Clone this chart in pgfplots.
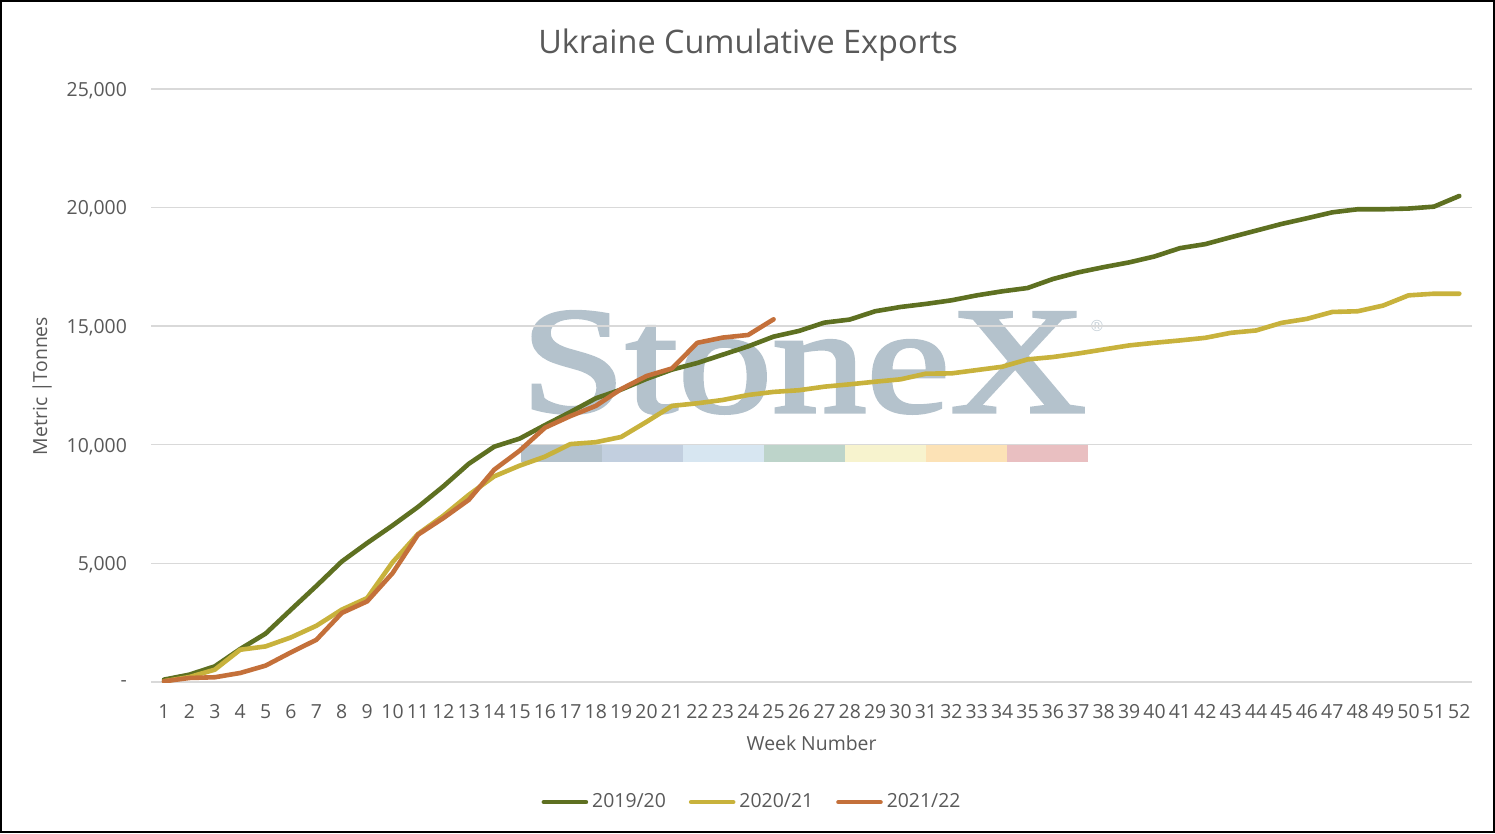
\documentclass[border=0pt]{standalone}
\usepackage{pgfplots}
\pgfplotsset{compat=1.18}
\usepackage{fontspec}
\setmainfont{Open Sans}
\newfontfamily\wmfont[FakeBold=2]{Liberation Serif}
\newfontfamily\symfont{Liberation Sans}
\newlength{\px}\setlength{\px}{0.5bp}
\definecolor{txt}{HTML}{595959}
\definecolor{gridc}{HTML}{D9D9D9}
\definecolor{sgreen}{HTML}{5E7021}
\definecolor{syellow}{HTML}{C8B23C}
\definecolor{sorange}{HTML}{C4703A}
\definecolor{wm}{HTML}{B4C2CC}
\definecolor{wa}{HTML}{B4C2CC}
\definecolor{wb}{HTML}{C2CFDF}
\definecolor{wc}{HTML}{D7E6F1}
\definecolor{wd}{HTML}{BDD4CA}
\definecolor{we}{HTML}{F7F3CE}
\definecolor{wf}{HTML}{FCE2B6}
\definecolor{wg}{HTML}{E9BFC1}
\begin{document}
\begin{tikzpicture}
\useasboundingbox (0,0) rectangle (1495\px,833\px);
\fill[white] (0,0) rectangle (1495\px,833\px);
% watermark
\node[anchor=base, inner sep=0pt, text=wm, font={\wmfont\fontsize{76bp}{80bp}\selectfont}, xscale=1.24] at (803.5\px,421\px) {StoneX};
\node[inner sep=0pt, text=wm!80, font={\symfont\fontsize{8bp}{9bp}\selectfont}] at (1097\px,507\px) {®};
\fill[wa] (521\px,371\px) rectangle (602\px,388\px);
\fill[wb] (602\px,371\px) rectangle (683\px,388\px);
\fill[wc] (683\px,371\px) rectangle (764\px,388\px);
\fill[wd] (764\px,371\px) rectangle (845\px,388\px);
\fill[we] (845\px,371\px) rectangle (926\px,388\px);
\fill[wf] (926\px,371\px) rectangle (1007\px,388\px);
\fill[wg] (1007\px,371\px) rectangle (1088\px,388\px);
\begin{axis}[
  at={(151.3\px,151\px)}, anchor=south west,
  scale only axis, width=1320.7\px, height=593\px,
  xmin=0.5, xmax=52.5, ymin=0, ymax=25000,
  xtick={1,...,52},
  ytick={0,5000,10000,15000,20000,25000},
  scaled y ticks=false,
  yticklabels={{-\hspace{11\px}},{5,000},{10,000},{15,000},{20,000},{25,000}},
  ymajorgrids, major grid style={gridc, line width=1.4\px},
  axis line style={draw=none}, major tick length=0pt,
  tick label style={font=\fontsize{9.7bp}{11bp}\selectfont, text=txt},
  /pgf/number format/assume math mode=true,
  xticklabel style={anchor=base, yshift=-36\px, inner sep=0pt},
  yticklabel style={anchor=east, xshift=-24\px, yshift=-1.5\px, inner sep=0pt},
  legend columns=3,
  legend style={at={(rel axis cs:0.4541,-0.2025)}, anchor=center, draw=none, fill=none,
    font=\fontsize{9.7bp}{11bp}\selectfont, text=txt, nodes={inner sep=0pt},
    /tikz/every odd column/.style={column sep=4\px},
    /tikz/every even column/.style={column sep=23\px}},
  legend image code/.code={\draw[#1] (0pt,0pt) -- (42\px,0pt);},
  every axis plot/.append style={line width=4.6\px, line cap=round, line join=round},
]
\addplot[sgreen] coordinates {
(1,100) (2,310) (3,660) (4,1390) (5,2040) (6,3050) (7,4050) (8,5080) (9,5860) (10,6600)
(11,7380) (12,8250) (13,9200) (14,9920) (15,10260) (16,10830) (17,11380) (18,11960) (19,12330) (20,12780)
(21,13170) (22,13450) (23,13800) (24,14150) (25,14560) (26,14800) (27,15150) (28,15280) (29,15630) (30,15810)
(31,15940) (32,16090) (33,16300) (34,16470) (35,16610) (36,16990) (37,17270) (38,17490) (39,17690) (40,17940)
(41,18290) (42,18460) (43,18750) (44,19030) (45,19310) (46,19550) (47,19800) (48,19930) (49,19930) (50,19960)
(51,20040) (52,20490)};
\addplot[syellow] coordinates {
(1,30) (2,210) (3,520) (4,1360) (5,1500) (6,1880) (7,2370) (8,3050) (9,3540) (10,5050)
(11,6240) (12,7010) (13,7890) (14,8670) (15,9120) (16,9500) (17,10030) (18,10110) (19,10330) (20,10970)
(21,11640) (22,11750) (23,11890) (24,12100) (25,12230) (26,12300) (27,12450) (28,12550) (29,12660) (30,12760)
(31,13000) (32,13010) (33,13150) (34,13290) (35,13600) (36,13700) (37,13850) (38,14020) (39,14190) (40,14300)
(41,14400) (42,14510) (43,14720) (44,14820) (45,15140) (46,15310) (47,15600) (48,15630) (49,15870) (50,16300)
(51,16370) (52,16370)};
\addplot[sorange] coordinates {
(1,30) (2,170) (3,200) (4,380) (5,690) (6,1250) (7,1780) (8,2910) (9,3400) (10,4590)
(11,6210) (12,6910) (13,7680) (14,8950) (15,9750) (16,10720) (17,11210) (18,11640) (19,12350) (20,12900)
(21,13220) (22,14300) (23,14520) (24,14630) (25,15290)};
\legend{2019/20,2020/21,2021/22}
\end{axis}
\node[font=\fontsize{16.2bp}{19bp}\selectfont, text=txt] at (748\px,788\px) {Ukraine Cumulative Exports};
\node[font=\fontsize{9.7bp}{11bp}\selectfont, text=txt] at (811.6\px,90\px) {Week Number};
\node[rotate=90, font=\fontsize{9.7bp}{11bp}\selectfont, text=txt] at (42\px,447\px) {Metric |Tonnes};
\draw[line width=2.5\px, black] (1.25\px,1.25\px) rectangle (1493.75\px,831.75\px);
\end{tikzpicture}
\end{document}
